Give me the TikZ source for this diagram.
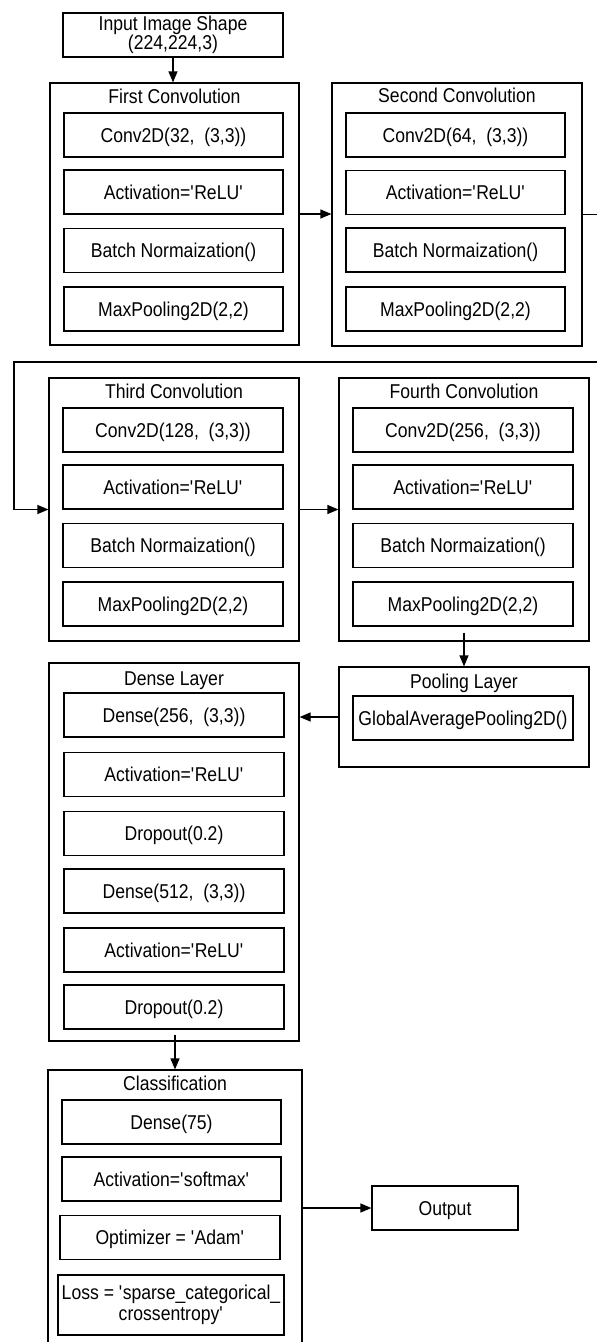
\documentclass[tikz,border=0pt]{standalone}
\usepackage{fontspec}
\setmainfont{Liberation Sans}[FakeStretch=0.88]
\usetikzlibrary{arrows.meta}
\newcommand{\sq}{\textquotesingle}

\begin{document}
\begin{tikzpicture}[x=1pt,y=-1pt,>={Triangle[length=11pt,width=9pt]},line width=1.2pt,
                    font=\fontsize{20}{19}\selectfont,
                    layer box/.style={draw,minimum width=219pt,minimum height=44pt,inner sep=0pt,text height=15pt,text depth=0.7pt},
                    two line box/.style={draw,minimum height=44pt,inner sep=0pt,align=center},
                    group box/.style={draw,inner sep=0pt},
                    group title/.style={inner sep=0pt,text height=15pt,text depth=0.7pt},
                    conn/.style={->}]
                \useasboundingbox (0,0) rectangle (597,1342);

                \node[two line box,minimum width=220pt] (in) at (173,35) {Input Image Shape\\(224,224,3)};

                % first convolution
                \node[group box,minimum width=249pt,minimum height=262pt] (c1) at (174.5,214) {};
                \node[group title] (c1t) at (174.5,96) {First Convolution};
                \node[layer box] (c1a) at (173.5,135) {Conv2D(32, \ (3,3))};
                \node[layer box] (c1b) at (173.5,192) {Activation=\sq ReLU\sq};
                \node[layer box] (c1c) at (173.5,250.5) {Batch Normaization()};
                \node[layer box] (c1d) at (173.5,309) {MaxPooling2D(2,2)};

                % second convolution
                \node[group box,minimum width=250pt,minimum height=263pt] (c2) at (457,214.5) {};
                \node[group title] (c2t) at (457,95.5) {Second Convolution};
                \node[layer box] (c2a) at (455.5,135) {Conv2D(64, \ (3,3))};
                \node[layer box] (c2b) at (455.5,192.5) {Activation=\sq ReLU\sq};
                \node[layer box] (c2c) at (455.5,250) {Batch Normaization()};
                \node[layer box] (c2d) at (455.5,309) {MaxPooling2D(2,2)};

                % third convolution
                \node[group box,minimum width=250pt,minimum height=263pt] (c3) at (174,509.5) {};
                \node[group title] (c3t) at (174,391) {Third Convolution};
                \node[layer box,minimum width=220pt] (c3a) at (173,430) {Conv2D(128, \ (3,3))};
                \node[layer box,minimum width=220pt] (c3b) at (173,487) {Activation=\sq ReLU\sq};
                \node[layer box,minimum width=220pt] (c3c) at (173,545.5) {Batch Normaization()};
                \node[layer box,minimum width=220pt] (c3d) at (173,604) {MaxPooling2D(2,2)};

                % fourth convolution
                \node[group box,minimum width=250pt,minimum height=263pt] (c4) at (464,509.5) {};
                \node[group title] (c4t) at (464,391) {Fourth Convolution};
                \node[layer box,minimum width=220pt] (c4a) at (463,430) {Conv2D(256, \ (3,3))};
                \node[layer box,minimum width=220pt] (c4b) at (463,487) {Activation=\sq ReLU\sq};
                \node[layer box,minimum width=220pt] (c4c) at (463,545.5) {Batch Normaization()};
                \node[layer box,minimum width=220pt] (c4d) at (463,604) {MaxPooling2D(2,2)};

                % pooling
                \node[group box,minimum width=250pt,minimum height=100pt] (pool) at (464,717) {};
                \node[group title] (poolt) at (464,681) {Pooling Layer};
                \node[layer box,minimum width=220pt] (poola) at (463,718) {GlobalAveragePooling2D()};

                % dense
                \node[group box,minimum width=250pt,minimum height=378pt] (dense) at (174,852) {};
                \node[group title] (denset) at (174,678) {Dense Layer};
                \node[layer box,minimum width=220pt] (d1) at (174,715) {Dense(256, \ (3,3))};
                \node[layer box,minimum width=220pt] (d2) at (174,774.5) {Activation=\sq ReLU\sq};
                \node[layer box,minimum width=220pt] (d3) at (174,833.5) {Dropout(0.2)};
                \node[layer box,minimum width=220pt] (d4) at (174,891) {Dense(512, \ (3,3))};
                \node[layer box,minimum width=220pt] (d5) at (174,950) {Activation=\sq ReLU\sq};
                \node[layer box,minimum width=220pt] (d6) at (174,1007) {Dropout(0.2)};

                % classification
                \node[group box,minimum width=254pt,minimum height=276pt] (cls) at (175,1208) {};
                \node[group title] (clst) at (175,1083.5) {Classification};
                \node[layer box] (k1) at (171.5,1122) {Dense(75)};
                \node[layer box] (k2) at (171.5,1179) {Activation=\sq softmax\sq};
                \node[layer box,minimum width=220pt] (k3) at (170,1237.5) {Optimizer = \sq Adam\sq};
                \node[two line box,minimum width=226pt,minimum height=60pt,font=\fontsize{20}{21}\selectfont] (k4) at (171,1305) {Loss = \sq sparse\_categorical\_\\crossentropy\sq};

                \node[layer box,minimum width=146pt] (out) at (445,1208) {Output};

                % wrap round from the second block to the third
                \coordinate (wr) at (612,362);
                \coordinate (wl) at (14,362);

                \path[conn]
                    (in.south) edge (in.south |- c1.north)
                    (c1.east) edge (c1.east -| c2.west)
                    (c3.east) edge (c3.east -| c4.west)
                    ([yshift=-6pt]pool.north |- c4d.south) edge (pool.north)
                    (pool.west) edge (pool.west -| dense.east)
                    ([yshift=-5pt]cls.north |- d6.south) edge (cls.north)
                    (cls) edge (out)
                ;
                \draw[conn] (c2.east) -| (wr) -- (wl) |- (c3.west);

            \end{tikzpicture}
\end{document}
